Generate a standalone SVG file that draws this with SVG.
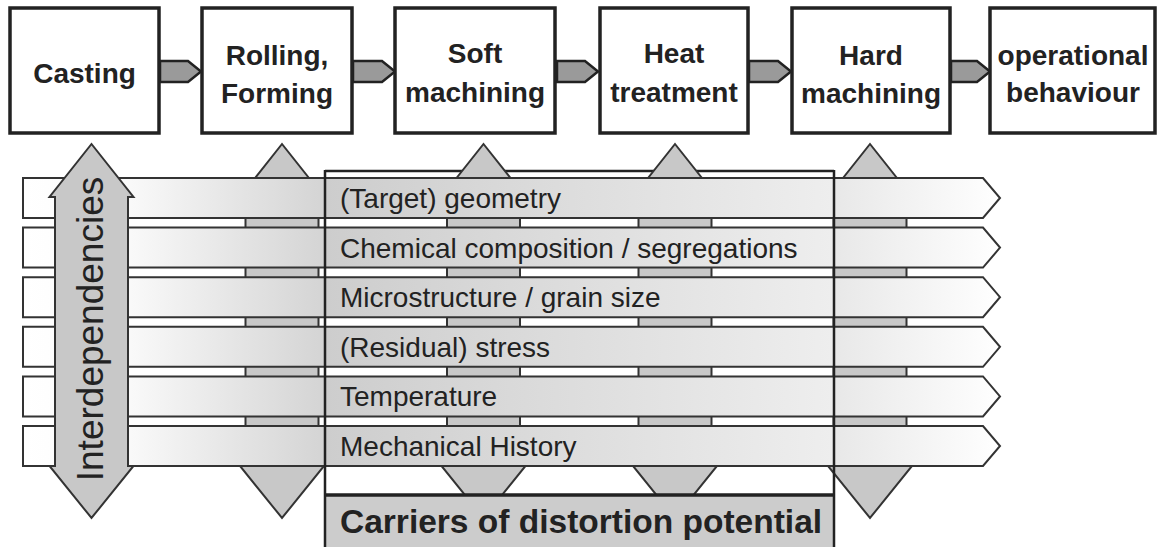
<svg xmlns="http://www.w3.org/2000/svg" width="1158" height="547" viewBox="0 0 1158 547">
<style>
.box{fill:#fff;stroke:#222;stroke-width:3.5}
.lbl{font-family:"Liberation Sans",Arial,sans-serif;font-weight:bold;font-size:28px;fill:#222;text-anchor:middle}
.flow{fill:#9a9a9a;stroke:#222;stroke-width:2.5;stroke-linejoin:miter}
.varr{fill:#c8c8c8;stroke:#333;stroke-width:2}
.band{fill:url(#bandg);stroke:#333;stroke-width:2}
.btxt{font-family:"Liberation Sans",Arial,sans-serif;font-size:28px;fill:#222}
.frame{fill:none;stroke:#222;stroke-width:2.5}
</style>
<defs>
<linearGradient id="bandg" gradientUnits="userSpaceOnUse" x1="23" y1="0" x2="1000" y2="0">
<stop offset="0" stop-color="#ffffff"/>
<stop offset="0.1" stop-color="#fbfbfb"/>
<stop offset="0.308" stop-color="#d4d4d4"/>
<stop offset="0.31" stop-color="#cdcdcd"/>
<stop offset="0.829" stop-color="#eeeeee"/>
<stop offset="0.831" stop-color="#e8e8e8"/>
<stop offset="1" stop-color="#ffffff"/>
</linearGradient>
</defs>
<rect width="1158" height="547" fill="#fff"/>

<g id="connectors">
<polygon class="flow" points="160,61 188,61 201,71.5 188,82 160,82"/>
<polygon class="flow" points="353,61 382,61 395,71.5 382,82 353,82"/>
<polygon class="flow" points="557,61 585,61 598,71.5 585,82 557,82"/>
<polygon class="flow" points="749,61 778,61 791,71.5 778,82 749,82"/>
<polygon class="flow" points="951,61 977,61 990,71.5 977,82 951,82"/>
</g>

<g id="casting"><rect class="box" x="10" y="8" width="149" height="125"/><text class="lbl" x="84.5" y="83">Casting</text></g>
<g id="rolling"><rect class="box" x="202" y="8" width="150" height="125"/><text class="lbl" x="277" y="65">Rolling,</text><text class="lbl" x="277" y="103">Forming</text></g>
<g id="soft"><rect class="box" x="395" y="8" width="160" height="125"/><text class="lbl" x="475" y="63">Soft</text><text class="lbl" x="475" y="102">machining</text></g>
<g id="heat"><rect class="box" x="600" y="8" width="148" height="125"/><text class="lbl" x="674" y="63">Heat</text><text class="lbl" x="674" y="102">treatment</text></g>
<g id="hard"><rect class="box" x="792" y="8" width="158" height="125"/><text class="lbl" x="871" y="65">Hard</text><text class="lbl" x="871" y="103">machining</text></g>
<g id="operational"><rect class="box" x="990" y="8" width="165" height="125"/><text class="lbl" x="1073" y="65">operational</text><text class="lbl" x="1073" y="102">behaviour</text></g>

<g id="carriers-top"><line x1="325" y1="171" x2="834" y2="171" stroke="#222" stroke-width="2.5"/></g>

<g id="process-arrows">
<polygon class="varr" points="282,144 324,197 318.5,197 318.5,466 324,466 282,518 240,466 245.5,466 245.5,197 240,197"/>
<polygon class="varr" points="483.5,144 525.5,197 520,197 520,466 525.5,466 483.5,518 441.5,466 447,466 447,197 441.5,197"/>
<polygon class="varr" points="675,144 717,197 711.5,197 711.5,466 717,466 675,518 633,466 638.5,466 638.5,197 633,197"/>
<polygon class="varr" points="870,144 912,197 906.5,197 906.5,466 912,466 870,518 828,466 833.5,466 833.5,197 828,197"/>
</g>

<g id="bands">
<g id="band1"><polygon class="band" points="23,178 983,178 1000,198 983,218 23,218"/><text class="btxt" x="340" y="208">(Target) geometry</text></g>
<g id="band2"><polygon class="band" points="23,227.6 983,227.6 1000,247.6 983,267.6 23,267.6"/><text class="btxt" x="340" y="257.6">Chemical composition / segregations</text></g>
<g id="band3"><polygon class="band" points="23,277.2 983,277.2 1000,297.2 983,317.2 23,317.2"/><text class="btxt" x="340" y="307.2">Microstructure / grain size</text></g>
<g id="band4"><polygon class="band" points="23,326.8 983,326.8 1000,346.8 983,366.8 23,366.8"/><text class="btxt" x="340" y="356.8">(Residual) stress</text></g>
<g id="band5"><polygon class="band" points="23,376.4 983,376.4 1000,396.4 983,416.4 23,416.4"/><text class="btxt" x="340" y="406.4">Temperature</text></g>
<g id="band6"><polygon class="band" points="23,426 983,426 1000,446 983,466 23,466"/><text class="btxt" x="340" y="456">Mechanical History</text></g>
</g>

<g id="interdependencies">
<polygon class="varr" points="91.5,144 133.5,197 128,197 128,466 133.5,466 91.5,518 49.5,466 55,466 55,197 49.5,197"/>
<text class="btxt" font-size="37" text-anchor="middle" transform="translate(103,329) rotate(-90)" style="font-size:37px">Interdependencies</text>
</g>

<g id="carriers">
<rect x="325" y="495" width="509" height="54" fill="#cccccc"/>
<line x1="325" y1="495" x2="834" y2="495" stroke="#222" stroke-width="3.5"/>
<line x1="325" y1="170" x2="325" y2="547" stroke="#222" stroke-width="2.5"/>
<line x1="834" y1="170" x2="834" y2="547" stroke="#222" stroke-width="2.5"/>
<text x="340" y="533" style="font-family:'Liberation Sans',Arial,sans-serif;font-weight:bold;font-size:33.5px;fill:#222">Carriers of distortion potential</text>
</g>
</svg>
